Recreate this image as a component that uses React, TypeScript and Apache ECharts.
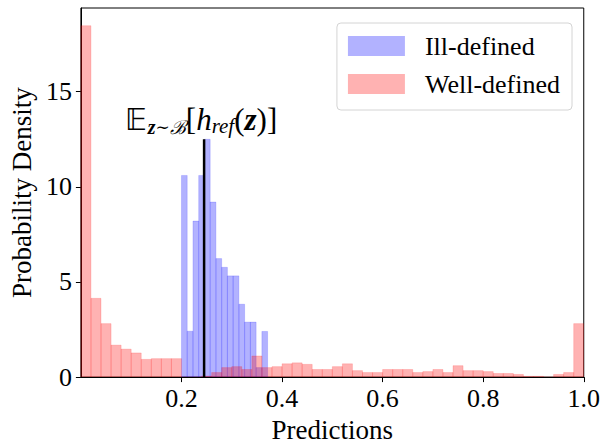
import React, { useEffect, useRef } from "react";
import * as echarts from "echarts";

const redBinStart = 0;
const redBinWidth = 0.02;
const redDensity = [
  18.47, 4.14, 2.81, 1.68, 1.47, 1.27, 0.93, 0.97, 0.97, 0.97,
  0.0, 0.0, 0.05, 0.24, 0.5, 0.55, 0.4, 1.11, 0.5, 0.55,
  0.7, 0.75, 0.67, 0.4, 0.4, 0.55, 0.7, 0.34, 0.24, 0.24,
  0.4, 0.4, 0.4, 0.24, 0.29, 0.4, 0.24, 0.6, 0.34, 0.34,
  0.29, 0.19, 0.19, 0.14, 0.04, 0.04, 0.0, 0.14, 0.24, 2.81,
];

const blueBinStart = 0.2;
const blueBinWidth = 0.01142;
const blueDensity = [10.6, 2.41, 8.2, 10.6, 12.5, 9.2, 6.23, 5.77, 5.32, 5.32, 3.83, 2.89, 2.89, 0.5, 2.4];

const meanX = 0.245;
const meanHeight = 12.5;

const xTicks = [0.2, 0.4, 0.6, 0.8, 1.0];
const yTicks = [0, 5, 10, 15];

const seriesNames = ["Ill-defined", "Well-defined"];

const FONT = "Liberation Serif";

function bins(start: number, width: number, dens: number[]) {
  return dens.map((h, i) => [start + i * width, start + (i + 1) * width, h]);
}

function renderHist(stroke: string) {
  return (params: any, api: any) => {
    const x0 = api.value(0);
    const x1 = api.value(1);
    const h = api.value(2);
    const p0 = api.coord([x0, h]);
    const p1 = api.coord([x1, 0]);
    return {
      type: "rect",
      shape: { x: p0[0], y: p0[1], width: p1[0] - p0[0], height: p1[1] - p0[1] },
      style: { fill: api.visual("color"), stroke, lineWidth: 0.6 },
    };
  };
}

export default function App() {
  const ref = useRef<HTMLDivElement>(null);
  useEffect(() => {
    if (!ref.current) return;
    const chart = echarts.init(ref.current, undefined, { renderer: "svg" });
    chart.setOption({
      animation: false,
      backgroundColor: "#fff",
      textStyle: { fontFamily: FONT },
      grid: { left: 78, right: 16, top: 8, bottom: 63, show: true, borderColor: "#000", borderWidth: 1 },
      legend: {
        data: seriesNames,
        orient: "vertical",
        right: 31,
        top: 23,
        icon: "rect",
        itemWidth: 57,
        itemHeight: 20,
        itemGap: 12,
        padding: [10, 12, 13, 11],
        backgroundColor: "rgba(255,255,255,0.8)",
        borderColor: "#d4d4d4",
        borderWidth: 1,
        borderRadius: 4,
        textStyle: { fontFamily: FONT, fontSize: 26, color: "#000", padding: [0, 0, 0, 15] },
      },
      xAxis: {
        type: "value",
        min: 0,
        max: 1,
        name: "Predictions",
        nameLocation: "middle",
        nameGap: 36,
        nameTextStyle: { fontFamily: FONT, fontSize: 27, color: "#000" },
        axisLine: { show: true, lineStyle: { color: "#000", width: 1 } },
        axisTick: { show: true, length: 5, customValues: xTicks, lineStyle: { color: "#000" } },
        axisLabel: {
          customValues: xTicks,
          formatter: (v: number) => v.toFixed(1),
          fontFamily: FONT,
          fontSize: 26,
          color: "#000",
          margin: 8,
        },
        splitLine: { show: false },
      },
      yAxis: {
        type: "value",
        min: 0,
        max: 19.4,
        name: "Probability Density",
        nameLocation: "middle",
        nameGap: 42,
        nameTextStyle: { fontFamily: FONT, fontSize: 27, color: "#000" },
        axisLine: { show: true, lineStyle: { color: "#000", width: 1 } },
        axisTick: { show: true, length: 5, customValues: yTicks, lineStyle: { color: "#000" } },
        axisLabel: { customValues: yTicks, fontFamily: FONT, fontSize: 26, color: "#000", margin: 9 },
        splitLine: { show: false },
      },
      series: [
        {
          name: seriesNames[0],
          type: "custom",
          itemStyle: { color: "rgba(0,0,255,0.3)" },
          renderItem: renderHist("rgba(0,0,255,0.25)"),
          encode: { x: [0, 1], y: 2 },
          data: bins(blueBinStart, blueBinWidth, blueDensity),
          clip: true,
          z: 2,
        },
        {
          name: seriesNames[1],
          type: "custom",
          itemStyle: { color: "rgba(255,0,0,0.3)" },
          renderItem: renderHist("rgba(255,0,0,0.25)"),
          encode: { x: [0, 1], y: 2 },
          data: bins(redBinStart, redBinWidth, redDensity),
          clip: true,
          z: 3,
        },
        {
          type: "line",
          data: [
            [meanX, 0],
            [meanX, meanHeight],
          ],
          symbol: "none",
          lineStyle: { color: "#000", width: 2.5 },
          z: 5,
          markPoint: {
            symbol: "circle",
            symbolSize: 0,
            data: [{ coord: [meanX, meanHeight] }],
            label: {
              show: true,
              position: "top",
              distance: 2,
              offset: [-3, 0],
              formatter: "{E|𝔼}{s|z}{t|∼}{b|ℬ}{n|[}{i|h}{r|ref}{n|(}{z|z}{n|)]}",
              rich: {
                E: { fontFamily: "DejaVu Sans", fontSize: 30, color: "#000" },
                s: { fontFamily: FONT, fontSize: 20, fontStyle: "italic", fontWeight: "bold", color: "#000", padding: [15, 0, 0, 1] },
                t: { fontFamily: "DejaVu Serif", fontSize: 17, color: "#000", padding: [15, 0, 0, 0] },
                b: { fontFamily: "DejaVu Serif", fontSize: 19, fontStyle: "italic", color: "#000", padding: [15, 0, 0, 0] },
                n: { fontFamily: FONT, fontSize: 31, color: "#000" },
                i: { fontFamily: FONT, fontSize: 31, fontStyle: "italic", color: "#000" },
                r: { fontFamily: FONT, fontSize: 21, fontStyle: "italic", color: "#000", padding: [13, 0, 0, 0] },
                z: { fontFamily: FONT, fontSize: 31, fontStyle: "italic", fontWeight: "bold", color: "#000" },
              },
            },
          },
        },
      ],
    });
    return () => chart.dispose();
  }, []);
  return <div ref={ref} style={{ position: "fixed", left: 0, top: 0, width: 603, height: 448 }} />;
}
